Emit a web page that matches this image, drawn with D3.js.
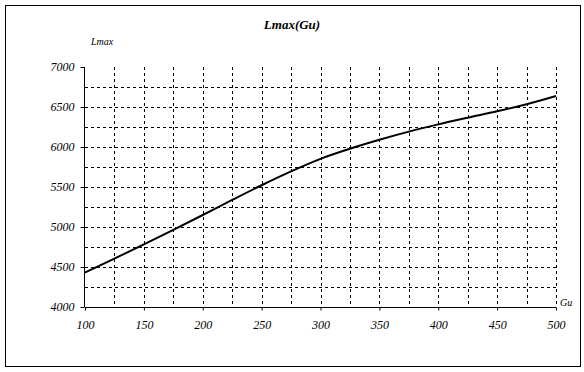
<!DOCTYPE html>
<html>
<head>
<meta charset="utf-8">
<script src="https://cdn.jsdelivr.net/npm/d3@7"></script>
<style>
  body { margin: 0; background: #fff; }
  text { font-family: "Liberation Serif", "Times New Roman", serif; font-style: italic; fill: #000; }
</style>
</head>
<body>
<div id="chart"></div>
<script>
var gu = [100, 125, 150, 175, 200, 225, 250, 275, 300, 325, 350, 375, 400, 425, 450, 475, 500];
var lmax = [4430, 4605, 4782, 4965, 5150, 5338, 5522, 5695, 5852, 5978, 6090, 6192, 6283, 6366, 6446, 6534, 6637];
var xTicks = [100, 150, 200, 250, 300, 350, 400, 450, 500];
var yTicks = [4000, 4500, 5000, 5500, 6000, 6500, 7000];

var width = 584, height = 372;

var svg = d3.select("#chart")
    .append("svg")
    .attr("width", width)
    .attr("height", height);

// outer frame
svg.append("rect")
    .attr("x", 5.5)
    .attr("y", 5.5)
    .attr("width", 575)
    .attr("height", 361)
    .attr("fill", "none")
    .attr("stroke", "#000")
    .attr("stroke-width", 1);

var x = d3.scaleLinear().domain([100, 500]).range([85, 556]);
var y = d3.scaleLinear().domain([4000, 7000]).range([307, 67]);

var grid = svg.append("g").attr("class", "grid");

// vertical dashed lines every 25
grid.selectAll("line.v")
    .data(d3.range(125, 501, 25))
    .enter().append("line")
    .attr("class", "v")
    .attr("x1", function(d) { return Math.round(x(d)) + 0.5; })
    .attr("x2", function(d) { return Math.round(x(d)) + 0.5; })
    .attr("y1", y(7000))
    .attr("y2", y(4000))
    .attr("stroke", "#000")
    .attr("stroke-dasharray", "3,3");

// horizontal dashed lines every 250
grid.selectAll("line.h")
    .data(d3.range(4250, 6751, 250))
    .enter().append("line")
    .attr("class", "h")
    .attr("x1", x(100))
    .attr("x2", x(500))
    .attr("y1", function(d) { return Math.round(y(d)) + 0.5; })
    .attr("y2", function(d) { return Math.round(y(d)) + 0.5; })
    .attr("stroke", "#000")
    .attr("stroke-dasharray", "3,3");

// axes
var xAxis = d3.axisBottom(x).tickValues(xTicks).tickSize(3).tickPadding(10).tickFormat(d3.format("d"));
var yAxis = d3.axisLeft(y).tickValues(yTicks).tickSize(4).tickPadding(6).tickFormat(d3.format("d"));

var gx = svg.append("g")
    .attr("transform", "translate(0," + (y(4000) + 0.5) + ")")
    .call(xAxis);
gx.select(".domain").attr("d", "M" + x(100) + ",0H" + x(500));

var gy = svg.append("g")
    .attr("transform", "translate(" + (x(100) - 0.5) + ",0)")
    .call(yAxis);
gy.select(".domain").attr("d", "M0," + y(7000) + "V" + y(4000));

svg.selectAll(".tick text")
    .style("font-family", '"Liberation Serif", serif')
    .style("font-style", "italic")
    .style("font-size", "12px");

// data line
var line = d3.line()
    .x(function(d, i) { return x(gu[i]); })
    .y(function(d) { return y(d); })
    .curve(d3.curveMonotoneX);

svg.append("path")
    .datum(lmax)
    .attr("d", line)
    .attr("fill", "none")
    .attr("stroke", "#000")
    .attr("stroke-width", 2);

// titles
svg.append("text")
    .attr("x", 292)
    .attr("y", 29)
    .attr("text-anchor", "middle")
    .style("font-weight", "bold")
    .style("font-size", "13px")
    .text("Lmax(Gu)");

svg.append("text")
    .attr("x", 91)
    .attr("y", 45)
    .style("font-size", "10px")
    .text("Lmax");

svg.append("text")
    .attr("x", 560)
    .attr("y", 306)
    .style("font-size", "10px")
    .text("Gu");
</script>
</body>
</html>
